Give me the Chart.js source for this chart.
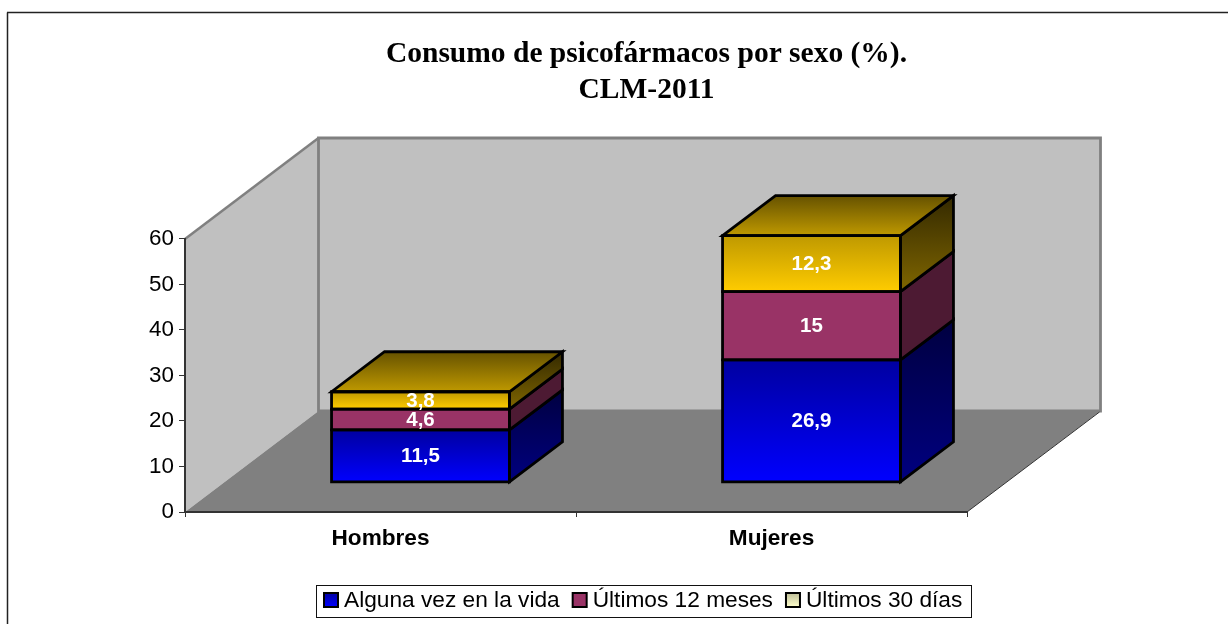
<!DOCTYPE html>
<html>
<head>
<meta charset="utf-8">
<style>html,body{margin:0;padding:0;background:#fff;overflow:hidden}canvas{display:block}</style>
<script src="https://cdn.jsdelivr.net/npm/chart.js@4"></script>
</head>
<body>
<canvas id="c" width="1228" height="624"></canvas>
<script>
const categories = ["Hombres", "Mujeres"];
const seriesNames = ["Alguna vez en la vida", "Últimos 12 meses", "Últimos 30 días"];
const algunaVez = [11.5, 26.9];
const ultimos12 = [4.6, 15];
const ultimos30 = [3.8, 12.3];
const titleLines = ["Consumo de psicofármacos por sexo (%).", "CLM-2011"];

const FRONT = [["#0000FF", "#0000A0"], ["#993366", "#993366"], ["#FFCC00", "#BF9900"]];
const SIDE = [["#000080", "#000040"], ["#4D1A33", "#4D1A33"], ["#806600", "#332900"]];
const SWATCH = [["#0000FF", "#0000A0"], ["#993366", "#993366"], ["#FFFFCC", "#BFBF99"]];
const TOPFACE = ["#BF9900", "#665200"];
const OFF = {x: 40, y: -29.7};          // bars sit inside the floor
const BAR = {x: 53, y: -40};            // bar depth
const WALL = {x: 133.5, y: -101};       // room depth

function grad(ctx, y0, y1, c) {
  const g = ctx.createLinearGradient(0, y0, 0, y1);
  g.addColorStop(0, c[0]); g.addColorStop(1, c[1]);
  return g;
}
function poly(ctx, pts, fill, stroke, lw) {
  ctx.beginPath();
  pts.forEach((p, i) => i ? ctx.lineTo(p[0], p[1]) : ctx.moveTo(p[0], p[1]));
  ctx.closePath();
  if (fill) { ctx.fillStyle = fill; ctx.fill(); }
  if (stroke) { ctx.strokeStyle = stroke; ctx.lineWidth = lw; ctx.lineJoin = "miter"; ctx.stroke(); }
}
function line(ctx, a, b, c, lw) {
  ctx.beginPath(); ctx.moveTo(a[0], a[1]); ctx.lineTo(b[0], b[1]);
  ctx.strokeStyle = c; ctx.lineWidth = lw; ctx.stroke();
}

const frontColor = (ctx2) => {
  const chart = ctx2.chart, y = chart.scales.y;
  if (!y || ctx2.type !== "data") return FRONT[ctx2.datasetIndex][0];
  let below = 0;
  for (let d = 0; d < ctx2.datasetIndex; d++) below += chart.data.datasets[d].data[ctx2.dataIndex];
  const v = chart.data.datasets[ctx2.datasetIndex].data[ctx2.dataIndex];
  const y0 = y.getPixelForValue(below), y1 = y.getPixelForValue(below + v);
  if (!isFinite(y0) || !isFinite(y1)) return FRONT[ctx2.datasetIndex][0];
  return grad(chart.ctx, y0, y1, FRONT[ctx2.datasetIndex]);
};

const room = {
  id: "room",
  afterLayout(chart) {
    chart.titleBlock.left += 163; chart.titleBlock.right += 163;
  },
  beforeDraw(chart) {
    const c = chart.ctx, a = chart.chartArea;
    c.save();
    c.fillStyle = "#fff"; c.fillRect(0, 0, chart.width, chart.height);
    line(c, [7.5, 624], [7.5, 12.5], "#222", 1.5);
    line(c, [7, 12.5], [1228, 12.5], "#222", 1.5);
    const L = a.left, R = a.right, T = a.top, B = a.bottom, dx = WALL.x, dy = WALL.y;
    poly(c, [[L, B], [L, T], [L + dx, T + dy], [L + dx, B + dy]], "#C0C0C0");
    poly(c, [[L + dx, T + dy], [R + dx, T + dy], [R + dx, B + dy], [L + dx, B + dy]], "#C0C0C0", "#808080", 2.8);
    line(c, [L, T], [L + dx, T + dy], "#808080", 2.5);
    poly(c, [[L, B], [R, B], [R + dx, B + dy], [L + dx, B + dy]], "#808080");
    line(c, [R, B], [R + dx - 1, B + dy + 1], "#333", 1);
    c.restore();
  },
  beforeDatasetsDraw(chart) { chart.ctx.save(); chart.ctx.translate(OFF.x, OFF.y); },
  afterDatasetsDraw(chart) {
    const c = chart.ctx, n = chart.data.datasets.length, LW = 2.8;
    for (let i = 0; i < categories.length; i++) {
      for (let d = 0; d < n; d++) {
        const el = chart.getDatasetMeta(d).data[i];
        const l = el.x - el.width / 2, r = el.x + el.width / 2, t = el.y, b = el.base;
        poly(c, [[r, b], [r + BAR.x, b + BAR.y], [r + BAR.x, t + BAR.y], [r, t]],
          grad(c, b, t + BAR.y, SIDE[d]), "#000", LW);
        if (d === n - 1) {
          poly(c, [[l, t], [r, t], [r + BAR.x, t + BAR.y], [l + BAR.x, t + BAR.y]],
            grad(c, t, t + BAR.y, TOPFACE), "#000", LW);
        }
        poly(c, [[l, t], [r, t], [r, b], [l, b]], null, "#000", LW);
      }
    }
    c.fillStyle = "#fff"; c.font = "bold 20.5px 'Liberation Sans'";
    c.textAlign = "center"; c.textBaseline = "middle";
    for (let d = 0; d < n; d++) {
      chart.getDatasetMeta(d).data.forEach((el, i) => {
        c.fillText(String(chart.data.datasets[d].data[i]).replace(".", ","), el.x, (el.y + el.base) / 2 + 0.7);
      });
    }
    c.restore();
    // legend
    c.save();
    const box = {l: 316.5, t: 585.5, r: 971.5, b: 617.5};
    c.fillStyle = "#fff"; c.fillRect(box.l, box.t, box.r - box.l, box.b - box.t);
    c.strokeStyle = "#111"; c.lineWidth = 1; c.strokeRect(box.l, box.t, box.r - box.l, box.b - box.t);
    c.font = "22.7px 'Liberation Sans'"; c.textAlign = "left"; c.textBaseline = "middle";
    let x = 324;
    seriesNames.forEach((s, i) => {
      const y0 = 593;
      c.fillStyle = grad(c, y0 + 14, y0, SWATCH[i]);
      c.fillRect(x, y0, 14, 14);
      c.strokeStyle = "#000"; c.lineWidth = 2; c.strokeRect(x, y0, 14, 14);
      c.fillStyle = "#000";
      c.fillText(s, x + 20, 601);
      x += 20 + c.measureText(s).width + 13;
    });
    c.restore();
  }
};

new Chart(document.getElementById("c"), {
  type: "bar",
  data: {
    labels: categories,
    datasets: [
      {label: seriesNames[0], data: algunaVez},
      {label: seriesNames[1], data: ultimos12},
      {label: seriesNames[2], data: ultimos30}
    ].map(d => Object.assign(d, {
      backgroundColor: frontColor, borderWidth: 0,
      barPercentage: 1, categoryPercentage: 0.455
    }))
  },
  options: {
    responsive: false, animation: false,
    layout: {padding: {left: 0, right: 261, top: 0, bottom: 0}},
    plugins: {
      legend: {display: false}, tooltip: {enabled: false},
      title: {
        display: true, text: titleLines, color: "#000",
        font: {family: "'Liberation Serif'", size: 29.5, weight: "bold", lineHeight: 1.22},
        padding: {top: 36.5, bottom: 130.5}
      }
    },
    scales: {
      x: {
        stacked: true,
        afterFit(s) { s.height = 112; },
        grid: {drawOnChartArea: false, drawTicks: true, tickLength: 5, color: "#333", offset: true},
        border: {color: "#333", width: 2},
        ticks: {color: "#000", padding: 8, font: {family: "'Liberation Sans'", size: 22.6, weight: "bold"}, maxRotation: 0}
      },
      y: {
        stacked: true, min: 0, max: 60,
        afterFit(s) { s.width = 185; },
        grid: {drawOnChartArea: false, drawTicks: true, tickLength: 6, color: "#333"},
        border: {color: "#333", width: 2},
        ticks: {stepSize: 10, color: "#000", padding: 5, font: {family: "'Liberation Sans'", size: 22.4}}
      }
    }
  },
  plugins: [room]
});
</script>
</body>
</html>
